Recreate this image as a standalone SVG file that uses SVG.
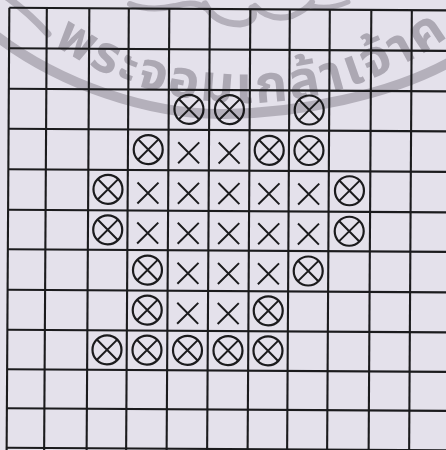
<svg xmlns="http://www.w3.org/2000/svg" xmlns:xlink="http://www.w3.org/1999/xlink" width="446" height="450" viewBox="0 0 446 450">
  <style>
    .wm { fill: none; stroke: #b4b0bb; stroke-linecap: round; }
    .wmtext { fill: #aca8b3; font-family: "Noto Sans Thai", "Noto Sans", "DejaVu Sans", sans-serif; font-size: 52px; font-weight: bold; letter-spacing: 2.9px; }
    .grid line { stroke: #1b1b1d; stroke-width: 2.1; }
    .mark { fill: none; stroke: #1b1b1d; stroke-width: 2; stroke-linecap: butt; }
  </style>
  <defs>
    <path id="arc" d="M 5,5 A 343 343 0 0 0 480,9.8"/>
    <g id="ox" class="mark">
      <circle cx="0" cy="0" r="14.5" stroke-width="2.2"/>
      <path d="M-10.2,-10.2 L10.2,10.2 M10.2,-10.2 L-10.2,10.2"/>
    </g>
    <g id="xx" class="mark">
      <path d="M-10.5,-10.5 L10.5,10.5 M10.5,-10.5 L-10.5,10.5"/>
    </g>
  </defs>

  <rect x="0" y="0" width="446" height="450" fill="#e4e1eb"/>

  <!-- faint seal watermark -->
  <g id="watermark">
    <path class="wm" stroke-width="10" d="M -5,35 C 60,85 150,115 225,114 S 390,95 450,62"/>
    <path class="wm" stroke-width="7" d="M 8,-2 Q 28,12 48,34"/>
    <path class="wm" stroke-width="6" d="M 130,4 Q 150,12 175,6 Q 195,0 205,8"/>
    <path class="wm" stroke-width="7" d="M 205,4 Q 215,24 240,24 Q 258,22 252,8"/>
    <path class="wm" stroke-width="6" d="M 255,6 Q 270,22 292,16 Q 306,10 312,2"/>
    <path class="wm" stroke-width="5" d="M 312,6 Q 330,10 348,2"/>
    <text class="wmtext"><textPath xlink:href="#arc" startOffset="62">พระจอมเกล้าเจ้าค</textPath></text>
  </g>

  <g class="grid" id="board" transform="rotate(0.35 223 225)">
    <g id="hlines">
      <line x1="8" y1="9" x2="452" y2="9"/>
      <line x1="8" y1="49.5" x2="452" y2="49.5"/>
      <line x1="8" y1="90" x2="452" y2="90"/>
      <line x1="8" y1="130" x2="452" y2="130"/>
      <line x1="8" y1="170.5" x2="452" y2="170.5"/>
      <line x1="8" y1="211" x2="452" y2="211"/>
      <line x1="8" y1="250.5" x2="452" y2="250.5"/>
      <line x1="8" y1="291" x2="452" y2="291"/>
      <line x1="8" y1="331" x2="452" y2="331"/>
      <line x1="8" y1="370.5" x2="452" y2="370.5"/>
      <line x1="8" y1="409.5" x2="452" y2="409.5"/>
      <line x1="8" y1="449" x2="452" y2="449"/>
    </g>
    <g id="vlines">
      <line x1="8" y1="9" x2="8" y2="456"/>
      <line x1="45.5" y1="9" x2="45.5" y2="456"/>
      <line x1="88" y1="9" x2="88" y2="456"/>
      <line x1="127.5" y1="9" x2="127.5" y2="456"/>
      <line x1="168" y1="9" x2="168" y2="456"/>
      <line x1="208.5" y1="9" x2="208.5" y2="456"/>
      <line x1="249" y1="9" x2="249" y2="456"/>
      <line x1="288.5" y1="9" x2="288.5" y2="456"/>
      <line x1="328.5" y1="9" x2="328.5" y2="456"/>
      <line x1="370" y1="9" x2="370" y2="456"/>
      <line x1="410.5" y1="9" x2="410.5" y2="456"/>
    </g>

    <g id="row2">
      <use xlink:href="#ox" x="188.25" y="109.5"/>
      <use xlink:href="#ox" x="228.75" y="109.5"/>
      <use xlink:href="#ox" x="308.5" y="109.5"/>
    </g>
    <g id="row3">
      <use xlink:href="#ox" x="147.75" y="150"/>
      <use xlink:href="#xx" x="188.25" y="153"/>
      <use xlink:href="#xx" x="228.75" y="153"/>
      <use xlink:href="#ox" x="268.75" y="150"/>
      <use xlink:href="#ox" x="308.5" y="150"/>
    </g>
    <g id="row4">
      <use xlink:href="#ox" x="107.75" y="190"/>
      <use xlink:href="#xx" x="147.75" y="193.5"/>
      <use xlink:href="#xx" x="188.25" y="193.5"/>
      <use xlink:href="#xx" x="228.75" y="193.5"/>
      <use xlink:href="#xx" x="268.75" y="193.5"/>
      <use xlink:href="#xx" x="308.5" y="193.5"/>
      <use xlink:href="#ox" x="349.25" y="190"/>
    </g>
    <g id="row5">
      <use xlink:href="#ox" x="107.75" y="230.5"/>
      <use xlink:href="#xx" x="147.75" y="233.5"/>
      <use xlink:href="#xx" x="188.25" y="233.5"/>
      <use xlink:href="#xx" x="228.75" y="233.5"/>
      <use xlink:href="#xx" x="268.75" y="233.5"/>
      <use xlink:href="#xx" x="308.5" y="233.5"/>
      <use xlink:href="#ox" x="349.25" y="230.5"/>
    </g>
    <g id="row6">
      <use xlink:href="#ox" x="147.75" y="270.5"/>
      <use xlink:href="#xx" x="188.25" y="273.5"/>
      <use xlink:href="#xx" x="228.75" y="273.5"/>
      <use xlink:href="#xx" x="268.75" y="273.5"/>
      <use xlink:href="#ox" x="308.5" y="270.5"/>
    </g>
    <g id="row7">
      <use xlink:href="#ox" x="147.75" y="310.5"/>
      <use xlink:href="#xx" x="188.25" y="313.5"/>
      <use xlink:href="#xx" x="228.75" y="313.5"/>
      <use xlink:href="#ox" x="268.75" y="310.5"/>
    </g>
    <g id="row8">
      <use xlink:href="#ox" x="107.75" y="350.5"/>
      <use xlink:href="#ox" x="147.75" y="350.5"/>
      <use xlink:href="#ox" x="188.25" y="350.5"/>
      <use xlink:href="#ox" x="228.75" y="350.5"/>
      <use xlink:href="#ox" x="268.75" y="350.5"/>
    </g>
  </g>
</svg>
